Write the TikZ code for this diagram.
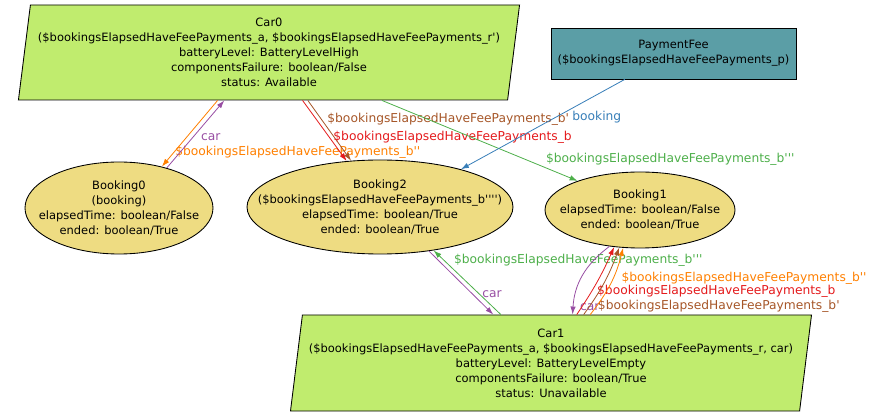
\documentclass[tikz,border=0pt]{standalone}
\usepackage{fontspec}
\setmainfont{DejaVu Sans}[Ligatures=TeXOff]
\usetikzlibrary{shapes.geometric,arrows.meta}
\definecolor{carfill}{HTML}{C0EC6E}
\definecolor{bookfill}{HTML}{EEDC82}
\definecolor{payfill}{HTML}{5B9EA6}
\definecolor{setred}{HTML}{E41A1C}
\definecolor{setblue}{HTML}{377EB8}
\definecolor{setgreen}{HTML}{4DAF4A}
\definecolor{setpurple}{HTML}{984EA3}
\definecolor{setorange}{HTML}{FF7F00}
\definecolor{setbrown}{HTML}{A65628}
\begin{document}
\begin{tikzpicture}[x=0.75pt, y=-0.75pt,
    font=\fontsize{8.6pt}{11.25pt}\selectfont,
    car/.style={trapezium, trapezium left angle=81, trapezium right angle=99,
        trapezium stretches=true,
        draw, fill=carfill, line width=0.65pt, align=center, inner sep=2pt},
    booking/.style={ellipse, draw, fill=bookfill, line width=0.65pt,
        align=center, inner xsep=-40pt, inner ysep=0pt},
    payment/.style={rectangle, draw, fill=payfill, line width=0.65pt, align=center},
    link/.style={-{Latex[length=6pt,width=4pt]}, line width=0.6pt},
    lbl/.style={anchor=west, inner sep=1pt, font=\fontsize{9.2pt}{11pt}\selectfont}]

    \useasboundingbox (0,0) rectangle (892,416);

    \node[car, minimum width=378pt, minimum height=71.25pt] (car0) at (269,52.5)
        {Car0\\(\$bookingsElapsedHaveFeePayments\_a, \$bookingsElapsedHaveFeePayments\_r')\\
         batteryLevel: BatteryLevelHigh\\componentsFailure: boolean/False\\status: Available};
    \node[payment, minimum width=183.75pt, minimum height=38.25pt] (pay) at (673.5,53.5)
        {PaymentFee\\(\$bookingsElapsedHaveFeePayments\_p)};

    \node[booking, minimum width=141pt, minimum height=69pt] (booking0) at (119,208)
        {Booking0\\(booking)\\elapsedTime: boolean/False\\ended: boolean/True};
    \node[booking, minimum width=199.5pt, minimum height=70.5pt] (booking2) at (380,207)
        {Booking2\\(\$bookingsElapsedHaveFeePayments\_b'''')\\elapsedTime: boolean/True\\ended: boolean/True};
    \node[booking, minimum width=142.5pt, minimum height=57pt] (booking1) at (640,210)
        {Booking1\\elapsedTime: boolean/False\\ended: boolean/True};

    \node[car, minimum width=391.5pt, minimum height=72pt] (car1) at (551,363)
        {Car1\\(\$bookingsElapsedHaveFeePayments\_a, \$bookingsElapsedHaveFeePayments\_r, car)\\
         batteryLevel: BatteryLevelEmpty\\componentsFailure: boolean/True\\status: Unavailable};

    % car0 links
    \draw[link, setorange] (car0.-137) -- node[lbl, pos=0.79] {\$bookingsElapsedHaveFeePayments\_b''} (booking0.44);
    \draw[link, setpurple] (booking0.40) -- node[lbl, pos=0.45, xshift=5pt] {car} (car0.-133);
    \draw[link, setbrown] (car0.-51) -- node[lbl, pos=0.32, xshift=3pt] {\$bookingsElapsedHaveFeePayments\_b'} (booking2.122);
    \draw[link, setred] (car0.-55) -- node[lbl, pos=0.6, xshift=2pt] {\$bookingsElapsedHaveFeePayments\_b} (booking2.126);
    \draw[link, setgreen] (car0.-23) -- node[lbl, anchor=south west, pos=0.83] {\$bookingsElapsedHaveFeePayments\_b'''} (booking1.155);
    \draw[link, setblue] (pay.-152) -- node[lbl, anchor=north west, pos=0.33] {booking} (booking2.25);

    % car1 links
    \draw[link, setpurple] (booking2.-42) -- node[lbl, pos=0.68, xshift=6pt] {car} (car1.140);
    \draw[link, setgreen] (car1.136) -- node[lbl, pos=0.84, xshift=6pt] {\$bookingsElapsedHaveFeePayments\_b'''} (booking2.-39);
    \draw[link, setpurple] (booking1.-130) to[bend right=25] node[lbl, pos=0.92, xshift=4pt] {car} (car1.66);
    \draw[link, setred] (car1.62) to[bend right=5] node[lbl, pos=0.34, xshift=3pt] {\$bookingsElapsedHaveFeePayments\_b} (booking1.-125);
    \draw[link, setbrown] (car1.56) to[bend right=8] node[lbl, pos=0.12, xshift=5pt] {\$bookingsElapsedHaveFeePayments\_b'} (booking1.-119);
    \draw[link, setorange] (car1.51) to[bend right=12] node[lbl, pos=0.58, xshift=5pt] {\$bookingsElapsedHaveFeePayments\_b''} (booking1.-114);
\end{tikzpicture}
\end{document}
